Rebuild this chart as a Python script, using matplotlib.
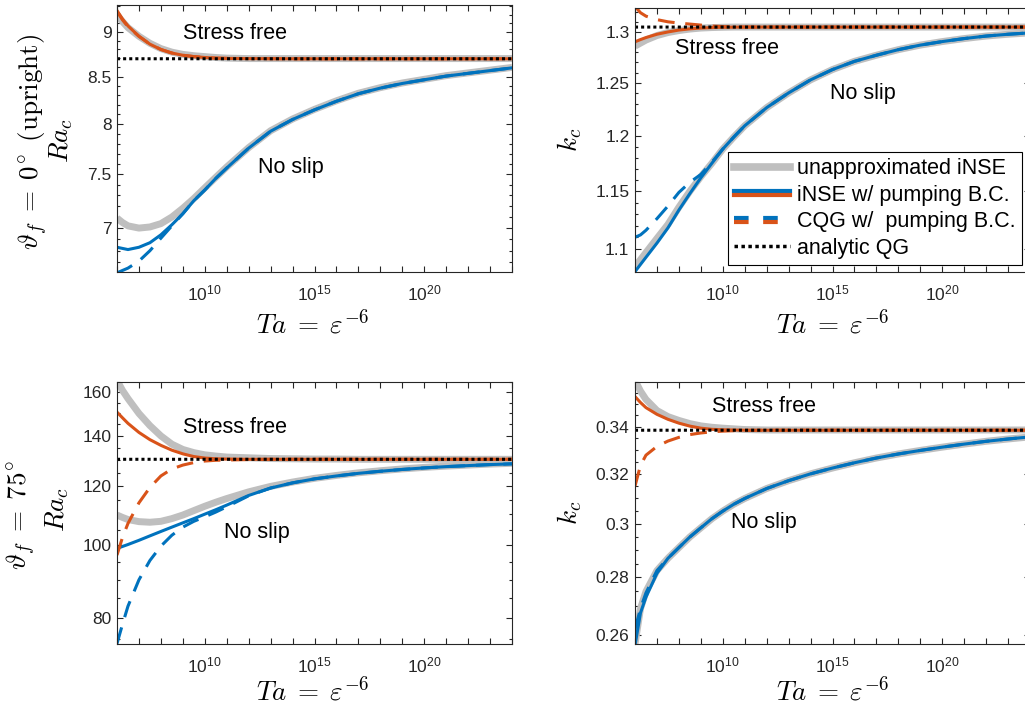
import numpy as np
import matplotlib
matplotlib.use('Agg')
import matplotlib.pyplot as plt
from matplotlib.lines import Line2D
from matplotlib.legend_handler import HandlerBase
from matplotlib.ticker import FixedLocator, FuncFormatter, NullFormatter

plt.rcParams['font.family'] = ['Liberation Sans', 'DejaVu Sans']
plt.rcParams['mathtext.fontset'] = 'cm'

GRAY = '#bfbfbf'
BLUE = '#0072bd'
ORANGE = '#d95319'
INK = '#262626'

# exponent of Ta (Ta = 10**exps), shared by every curve
exps = [6, 6.25, 6.5, 7, 7.5, 8, 8.5, 9, 9.5, 10, 10.5, 11, 12, 13, 14, 15,
        16, 17, 18, 19, 20, 21, 22, 23, 24]

# --- upright, Ra_c
tl_gray_ns = [7.09, 7.05, 7.02, 7.00, 7.01, 7.04, 7.10, 7.18, 7.27, 7.37, 7.47, 7.57,
              7.76, 7.93, 8.05, 8.15, 8.24, 8.32, 8.38, 8.43, 8.47, 8.51, 8.54, 8.57, 8.60]
tl_inse_ns = [6.83, 6.82, 6.81, 6.83, 6.87, 6.94, 7.03, 7.13, 7.25, 7.35, 7.46, 7.56,
              7.755, 7.925, 8.045, 8.145, 8.235, 8.315, 8.375, 8.425, 8.465, 8.505, 8.535, 8.565, 8.595]
tl_cqg_ns = [6.61, 6.63, 6.65, 6.71, 6.80, 6.91, 7.02, 7.13, 7.25, 7.35, 7.46, 7.56] + tl_inse_ns[12:]
tl_gray_sf = [9.20, 9.12, 9.05, 8.95, 8.87, 8.81, 8.77, 8.745, 8.73, 8.72, 8.71, 8.703] + [8.698] * 13
tl_inse_sf = [9.25, 9.15, 9.07, 8.95, 8.86, 8.80, 8.76, 8.735, 8.72, 8.71, 8.703, 8.700,
              8.698, 8.697] + [8.696] * 11
tl_cqg_sf = [9.24, 9.14, 9.06, 8.95, 8.86, 8.80, 8.76, 8.735, 8.72, 8.71, 8.703, 8.700,
             8.698, 8.697] + [8.696] * 11
tl_qg = 8.696

# --- upright, k_c
tr_gray_ns = [1.085, 1.091, 1.097, 1.109, 1.121, 1.136, 1.150, 1.163, 1.175, 1.188, 1.199, 1.2095,
              1.2265, 1.2405, 1.253, 1.263, 1.271, 1.277, 1.2825, 1.287, 1.2905, 1.2935, 1.296, 1.2978, 1.2992]
tr_inse_ns = [1.081, 1.087, 1.093, 1.105, 1.118, 1.1335, 1.148, 1.162, 1.175, 1.188, 1.199,
              1.2095] + tr_gray_ns[12:]
tr_cqg_ns = [1.110, 1.112, 1.116, 1.126, 1.137, 1.149, 1.158, 1.165, 1.176, 1.188, 1.199,
             1.2095] + tr_gray_ns[12:]
tr_gray_sf = [1.286, 1.289, 1.292, 1.2965, 1.2995, 1.3015, 1.303, 1.304, 1.3045, 1.3048] + [1.305] * 15
tr_inse_sf = [1.2903, 1.2925, 1.2945, 1.2978, 1.3001, 1.302, 1.3032, 1.304, 1.3045, 1.3048,
              1.3049] + [1.305] * 14
tr_cqg_sf = [1.326, 1.3195, 1.316, 1.3125, 1.3103, 1.309, 1.308, 1.307, 1.306, 1.3055,
             1.3052] + [1.305] * 14
tr_qg = 1.305

# --- tilted 75 deg, Ra_c
bl_gray_sf = [166, 161, 157, 150, 144.5, 140, 136.5, 134.3, 133.0, 132.1, 131.6, 131.2, 130.9,
              130.6, 130.5, 130.4, 130.4] + [130.3] * 8
bl_inse_sf = [150.6, 148.0, 145.5, 141.5, 138.4, 136.0, 134.0, 132.5, 131.4, 130.8, 130.5,
              130.4] + [130.3] * 13
bl_cqg_sf = [97.1, 102.5, 107.0, 114.0, 119.5, 123.8, 126.5, 128.0, 129.0, 129.6, 129.9, 130.0,
             130.2] + [130.3] * 12
bl_gray_ns = [109.8, 109.0, 108.3, 107.6, 107.4, 107.7, 108.6, 109.8, 111.3, 112.8, 114.2, 115.5,
              117.9, 119.9, 121.5, 122.9, 124.0, 125.0, 125.8, 126.5, 127.1, 127.6, 128.0, 128.4, 128.7]
bl_inse_ns = [99.1, 99.7, 100.3, 101.6, 103.0, 104.4, 105.8, 107.2, 108.6, 110.1, 111.6, 113.2,
              116.6, 119.3, 121.2, 122.7, 123.8, 124.8, 125.6, 126.3, 126.9, 127.4, 127.8, 128.2, 128.5]
bl_cqg_ns = [74.0, 78.5, 83.0, 90.0, 95.5, 99.8, 103.2, 105.8, 107.7, 109.2, 110.8, 112.6,
             116.5, 119.3] + bl_inse_ns[14:]
bl_qg = 130.3

# --- tilted 75 deg, k_c
br_gray_sf = [0.3610, 0.3560, 0.3522, 0.3472, 0.3445, 0.3428, 0.3414, 0.3404, 0.3398, 0.3394,
              0.3391, 0.3388] + [0.3386] * 13
br_inse_sf = [0.3535, 0.3508, 0.3485, 0.3455, 0.3433, 0.3416, 0.3403, 0.3394, 0.3389, 0.3387,
              0.3386] + [0.3385] * 14
br_cqg_sf = [0.3150, 0.3235, 0.3278, 0.3315, 0.3338, 0.3354, 0.3366, 0.3373, 0.3378, 0.3381,
             0.3383, 0.3384] + [0.3385] * 13
br_gray_ns = [0.2570, 0.2690, 0.2750, 0.2825, 0.2870, 0.2910, 0.2950, 0.2985, 0.3020, 0.3050,
              0.3077, 0.3100, 0.3140, 0.3172, 0.3200, 0.3224, 0.3246, 0.3266, 0.3283, 0.3298,
              0.3312, 0.3325, 0.3337, 0.3347, 0.3356]
br_inse_ns = [0.2565, 0.2675, 0.2730, 0.2815] + br_gray_ns[4:]
br_cqg_ns = [0.2620, 0.2690, 0.2745, 0.2825] + br_gray_ns[4:]
br_qg = 0.3385

xticks = [1e10, 1e15, 1e20]
legend_labels = ['unapproximated iNSE', 'iNSE w/ pumping B.C.', 'CQG w/  pumping B.C.', 'analytic QG']

W, H = 1025, 707
fig = plt.figure(figsize=(W / 100, H / 100), dpi=100)


def px(x, y):
    return x / W, 1 - y / H


def box(l, t, r, b):
    return [l / W, 1 - b / H, (r - l) / W, (b - t) / H]


DASH = (0, (5.5, 3.5))
DOT = (0, (1, 1))


def panel(rect, gray_ns, inse_ns, cqg_ns, gray_sf, inse_sf, cqg_sf, qg, ylim, yticks, yminor):
    ax = fig.add_axes(rect)
    ta = 10.0 ** np.array(exps)
    ax.plot(ta, gray_sf, color=GRAY, lw=5, solid_capstyle='butt', snap=False)
    ax.plot(ta, gray_ns, color=GRAY, lw=5, solid_capstyle='butt', snap=False)
    ax.plot(ta, inse_ns, color=BLUE, lw=2.2, snap=False)
    ax.plot(ta, inse_sf, color=ORANGE, lw=2.2, snap=False)
    ax.plot(ta, cqg_ns, color=BLUE, lw=2.2, ls=DASH, snap=False)
    ax.plot(ta, cqg_sf, color=ORANGE, lw=2.2, ls=DASH, snap=False)
    ax.axhline(qg, color='black', lw=2.2, ls=DOT, snap=False)
    ax.set_xscale('log')
    ax.set_yscale('log')
    ax.set_xlim(1e6, 1e24)
    ax.set_ylim(*ylim)
    ax.xaxis.set_major_locator(FixedLocator(xticks))
    ax.xaxis.set_major_formatter(FuncFormatter(
        lambda v, p: r'$\mathregular{10^{%d}}$' % round(np.log10(v))))
    ax.xaxis.set_minor_locator(FixedLocator(10.0 ** np.arange(6, 25)))
    ax.xaxis.set_minor_formatter(NullFormatter())
    ax.yaxis.set_major_locator(FixedLocator(yticks))
    ax.yaxis.set_major_formatter(FuncFormatter(lambda v, p: '%g' % v))
    ax.yaxis.set_minor_locator(FixedLocator(yminor))
    ax.yaxis.set_minor_formatter(NullFormatter())
    ax.tick_params(which='both', direction='in', top=True, right=True,
                   color=INK, labelcolor=INK, labelsize=12.5, width=0.8)
    ax.tick_params(which='major', length=4)
    ax.tick_params(axis='y', which='minor', length=2.3)
    ax.tick_params(axis='x', which='minor', length=4)
    ax.tick_params(axis='x', pad=8)
    ax.tick_params(axis='y', pad=4)
    for s in ax.spines.values():
        s.set_color(INK)
        s.set_linewidth(0.8)
    return ax


ax_tl = panel(box(117, 5, 512, 272), tl_gray_ns, tl_inse_ns, tl_cqg_ns, tl_gray_sf, tl_inse_sf,
              tl_cqg_sf, tl_qg, (6.617, 9.316), [7, 7.5, 8, 8.5, 9], np.arange(6.7, 9.35, 0.1))
ax_tr = panel(box(635, 8, 1030, 272), tr_gray_ns, tr_inse_ns, tr_cqg_ns, tr_gray_sf, tr_inse_sf,
              tr_cqg_sf, tr_qg, (1.0807, 1.3243), [1.1, 1.15, 1.2, 1.25, 1.3], np.arange(1.09, 1.325, 0.01))
ax_bl = panel(box(117, 382, 512, 644), bl_gray_ns, bl_inse_ns, bl_cqg_ns, bl_gray_sf, bl_inse_sf,
              bl_cqg_sf, bl_qg, (73.9, 165.2), [80, 100, 120, 140, 160], np.arange(75, 166, 5))
ax_br = panel(box(635, 382, 1030, 644), br_gray_ns, br_inse_ns, br_cqg_ns, br_gray_sf, br_inse_sf,
              br_cqg_sf, br_qg, (0.2570, 0.3602), [0.26, 0.28, 0.3, 0.32, 0.34], np.arange(0.26, 0.3605, 0.005))

# annotations (axes fractions)
for ax, sf, ns in [(ax_tl, (0.167, 0.895), (0.357, 0.393)),
                   (ax_tr, (0.101, 0.848), (0.494, 0.678)),
                   (ax_bl, (0.167, 0.828), (0.271, 0.424)),
                   (ax_br, (0.195, 0.905), (0.243, 0.462))]:
    ax.text(*sf, 'Stress free', fontsize=15.5, ha='left', va='center', transform=ax.transAxes)
    ax.text(*ns, 'No slip', fontsize=15.5, ha='left', va='center', transform=ax.transAxes)

# axis labels
for x0, y0 in [(313, 324), (833, 324), (313, 691), (833, 691)]:
    fig.text(*px(x0, y0), r'$Ta\;=\;\varepsilon^{-6}$', fontsize=19.5, ha='center', va='center')
fig.text(*px(33, 142), r'$\vartheta_f\;=\;0^{\!\circ}\ \mathrm{(upright)}$', fontsize=19.5,
         rotation=90, ha='center', va='center')
fig.text(*px(61, 141), r'$Ra_c$', fontsize=19.5, rotation=90, ha='center', va='center')
fig.text(*px(21, 515), r'$\vartheta_f\;=\;75^{\!\circ}$', fontsize=19.5, rotation=90,
         ha='center', va='center')
fig.text(*px(57, 510), r'$Ra_c$', fontsize=19.5, rotation=90, ha='center', va='center')
fig.text(*px(570, 140), r'$k_c$', fontsize=19.5, rotation=90, ha='center', va='center')
fig.text(*px(570, 513), r'$k_c$', fontsize=19.5, rotation=90, ha='center', va='center')


# legend with two-tone (blue over orange) handles
class TwoTone:
    def __init__(self, ls):
        self.ls = ls


class HandlerTwoTone(HandlerBase):
    def create_artists(self, legend, orig_handle, xdescent, ydescent, width, height, fontsize, trans):
        y = height / 2 - ydescent
        xs = [-xdescent, width - xdescent]
        top = Line2D(xs, [y + 1.5, y + 1.5], color=BLUE, lw=3, ls=orig_handle.ls, transform=trans)
        bot = Line2D(xs, [y - 1.5, y - 1.5], color=ORANGE, lw=3, ls=orig_handle.ls, transform=trans)
        return [top, bot]


handles = [Line2D([], [], color=GRAY, lw=5.5),
           TwoTone('-'),
           TwoTone((0, (3.5, 3.5))),
           Line2D([], [], color='black', lw=2.5, ls=DOT)]
leg = ax_tr.legend(handles, legend_labels, handler_map={TwoTone: HandlerTwoTone()},
                   loc='upper right', bbox_to_anchor=px(1022, 152), bbox_transform=fig.transFigure,
                   fontsize=15.5, frameon=True, fancybox=False, framealpha=1, edgecolor='black',
                   handlelength=2.6, handletextpad=0.3, labelspacing=0.25, borderpad=0.3,
                   borderaxespad=0)
leg.get_frame().set_linewidth(0.8)

fig.savefig('out.png', dpi=100)
